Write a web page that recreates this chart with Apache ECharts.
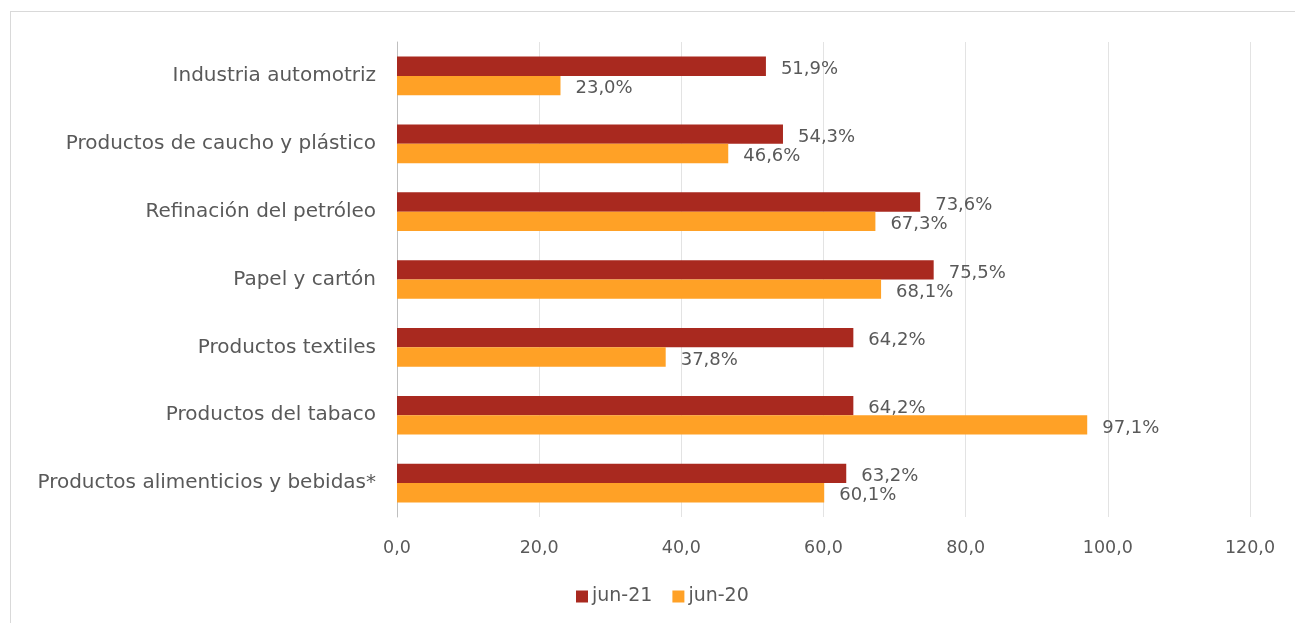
<!DOCTYPE html>
<html><head><meta charset="utf-8">
<script src="https://cdn.jsdelivr.net/npm/echarts@6/dist/echarts.min.js"></script>
<style>
html,body{margin:0;padding:0;background:#fff;}
#frame{position:absolute;left:10px;top:11px;width:1400px;height:700px;border:1px solid #d9d9d9;box-sizing:border-box;}
#c{position:absolute;left:0;top:0;width:1295px;height:623px;}
</style></head>
<body>
<div id="frame"></div>
<div id="c"></div>
<script>
const categories = ['Productos alimenticios y bebidas*','Productos del tabaco','Productos textiles','Papel y cartón','Refinación del petróleo','Productos de caucho y plástico','Industria automotriz'];
const jun21 = [63.2, 64.2, 64.2, 75.5, 73.6, 54.3, 51.9];
const jun20 = [60.1, 97.1, 37.8, 68.1, 67.3, 46.6, 23.0];
const xTicks = [0, 20, 40, 60, 80, 100, 120];

const FONT = 'DejaVu Sans';
const TXT = '#595959';
const fmtPct = p => p.value.toFixed(1).replace('.', ',') + '%';
const chart = echarts.init(document.getElementById('c'));
chart.setOption({
  animation: false,
  textStyle: {fontFamily: FONT},
  grid: {left: 397, right: 45, top: 42, bottom: 106, containLabel: false},
  legend: {
    data: ['jun-21', 'jun-20'], bottom: 17, left: 576, padding: 0, itemWidth: 12, itemHeight: 12, itemGap: 20,
    icon: 'rect', textStyle: {color: TXT, fontSize: 19, fontFamily: FONT, padding: [0, 0, 0, -1]}
  },
  xAxis: {
    type: 'value', min: xTicks[0], max: xTicks[xTicks.length - 1], interval: 20,
    axisLine: {show: false}, axisTick: {show: false},
    splitLine: {lineStyle: {color: '#e3e3e3', width: 1}},
    axisLabel: {color: TXT, fontSize: 17.5, margin: 22, fontFamily: FONT,
      formatter: v => v.toFixed(1).replace('.', ',')}
  },
  yAxis: {
    type: 'category', data: categories,
    axisLine: {show: true, lineStyle: {color: '#bfbfbf', width: 1}}, axisTick: {show: false},
    axisLabel: {color: TXT, fontSize: 20, margin: 21, fontFamily: FONT}
  },
  series: [
    {name: 'jun-21', type: 'bar', data: jun21, barGap: '0%', barCategoryGap: '43%',
      itemStyle: {color: '#A9291F'},
      label: {show: true, position: 'right', distance: 15, color: TXT, fontSize: 18, fontFamily: FONT, formatter: fmtPct, offset: [0, 3]}},
    {name: 'jun-20', type: 'bar', data: jun20, barGap: '0%', barCategoryGap: '43%',
      itemStyle: {color: '#FFA126'},
      label: {show: true, position: 'right', distance: 15, color: TXT, fontSize: 18, fontFamily: FONT, formatter: fmtPct, offset: [0, 3]}}
  ]
});
</script>
</body></html>
